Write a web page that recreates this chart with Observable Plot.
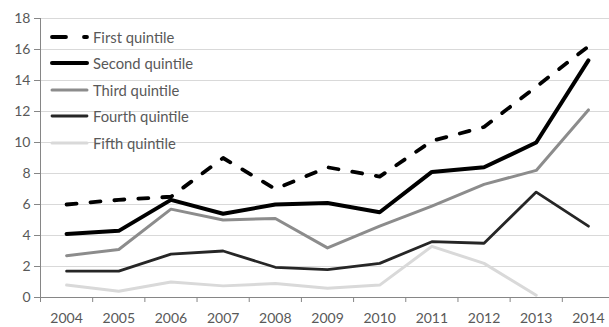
<!DOCTYPE html>
<html>
<head>
<meta charset="utf-8">
<script src="https://cdn.jsdelivr.net/npm/d3@7"></script>
<script src="https://cdn.jsdelivr.net/npm/@observablehq/plot@0.6"></script>
<style>
  html, body { margin: 0; padding: 0; background: #fff; }
  #wrap { position: relative; width: 609px; height: 327px; overflow: hidden; font-family: Lato, "Open Sans", sans-serif; }
  #legend { position: absolute; left: 49px; top: 23.5px; }
  .row { display: flex; align-items: center; height: 26.5px; font-size: 14.8px; color: #595959; }
  .row svg { margin-right: 3px; }
</style>
</head>
<body>
<div id="wrap"><div id="legend"></div></div>
<script>
const years = [2004, 2005, 2006, 2007, 2008, 2009, 2010, 2011, 2012, 2013, 2014];
const seriesNames = ["First quintile", "Second quintile", "Third quintile", "Fourth quintile", "Fifth quintile"];
const firstQ  = [6.0, 6.3, 6.5, 9.0, 7.0, 8.4, 7.8, 10.1, 11.0, 13.6, 16.2];
const secondQ = [4.1, 4.3, 6.3, 5.4, 6.0, 6.1, 5.5, 8.1, 8.4, 10.0, 15.3];
const thirdQ  = [2.7, 3.1, 5.7, 5.0, 5.1, 3.2, 4.6, 5.9, 7.3, 8.2, 12.1];
const fourthQ = [1.7, 1.7, 2.8, 3.0, 1.95, 1.8, 2.2, 3.6, 3.5, 6.8, 4.6];
const fifthQ  = [0.8, 0.4, 1.0, 0.75, 0.9, 0.6, 0.8, 3.3, 2.2, 0.15, null];
const yTicks = [0, 2, 4, 6, 8, 10, 12, 14, 16, 18];

const seriesValues = [firstQ, secondQ, thirdQ, fourthQ, fifthQ];
const styles = [
  {stroke: "#000000", strokeWidth: 3.8, dash: "10,14"},
  {stroke: "#000000", strokeWidth: 4, dash: null},
  {stroke: "#8c8c8c", strokeWidth: 3, dash: null},
  {stroke: "#262626", strokeWidth: 2.8, dash: null},
  {stroke: "#d9d9d9", strokeWidth: 3, dash: null}
];

const rows = [];
seriesNames.forEach((name, i) => {
  years.forEach((yr, j) => {
    const v = seriesValues[i][j];
    if (v != null) rows.push({series: name, year: yr, value: v});
  });
});

const bandEdges = years.map(y => y - 0.5).concat([years[years.length - 1] + 0.5]);

const lineMarks = seriesNames.map((name, i) => Plot.line(rows.filter(d => d.series === name), {
  x: "year", y: "value",
  stroke: styles[i].stroke,
  strokeWidth: styles[i].strokeWidth,
  strokeDasharray: styles[i].dash,
  strokeLinecap: "round",
  strokeLinejoin: "round"
}));

const chart = Plot.plot({
  width: 609,
  height: 327,
  marginTop: 18,
  marginBottom: 30,
  marginLeft: 40,
  marginRight: 0,
  style: {fontFamily: "Lato, 'Open Sans', sans-serif", fontSize: "14px", color: "#595959", background: "#fff"},
  x: {type: "linear", domain: [bandEdges[0], bandEdges[bandEdges.length - 1]], range: [40, 614]},
  y: {domain: [0, 18], range: [297, 18]},
  marks: [
    Plot.ruleY(yTicks.filter(t => t > 0), {stroke: "#d9d9d9", strokeWidth: 1}),
    Plot.ruleY([0], {stroke: "#868686", strokeWidth: 1}),
    Plot.ruleX([bandEdges[0]], {y1: 0, y2: 18, stroke: "#868686", strokeWidth: 1}),
    Plot.axisY({ticks: yTicks, tickSize: 6, tickPadding: 4, stroke: "#868686", fill: "#595959", tickFormat: d => String(d), label: null, fontSize: 14}),
    Plot.axisX({ticks: years, tickSize: 0, tickPadding: 16, tickFormat: d => String(d), fill: "#595959", label: null, fontSize: 14}),
    Plot.axisX({ticks: bandEdges, tickSize: 5, tickFormat: () => "", stroke: "#868686", label: null}),
    ...lineMarks
  ]
});
document.getElementById("wrap").prepend(chart);

const legend = document.getElementById("legend");
seriesNames.forEach((name, i) => {
  const row = document.createElement("div");
  row.className = "row";
  const s = styles[i];
  row.innerHTML = `<svg width="41" height="10"><line x1="3" y1="5" x2="38" y2="5" stroke="${s.stroke}" stroke-width="${s.strokeWidth}" stroke-linecap="round" ${s.dash ? `stroke-dasharray="14,18"` : ""}/></svg><span>${name}</span>`;
  legend.appendChild(row);
});
</script>
</body>
</html>
